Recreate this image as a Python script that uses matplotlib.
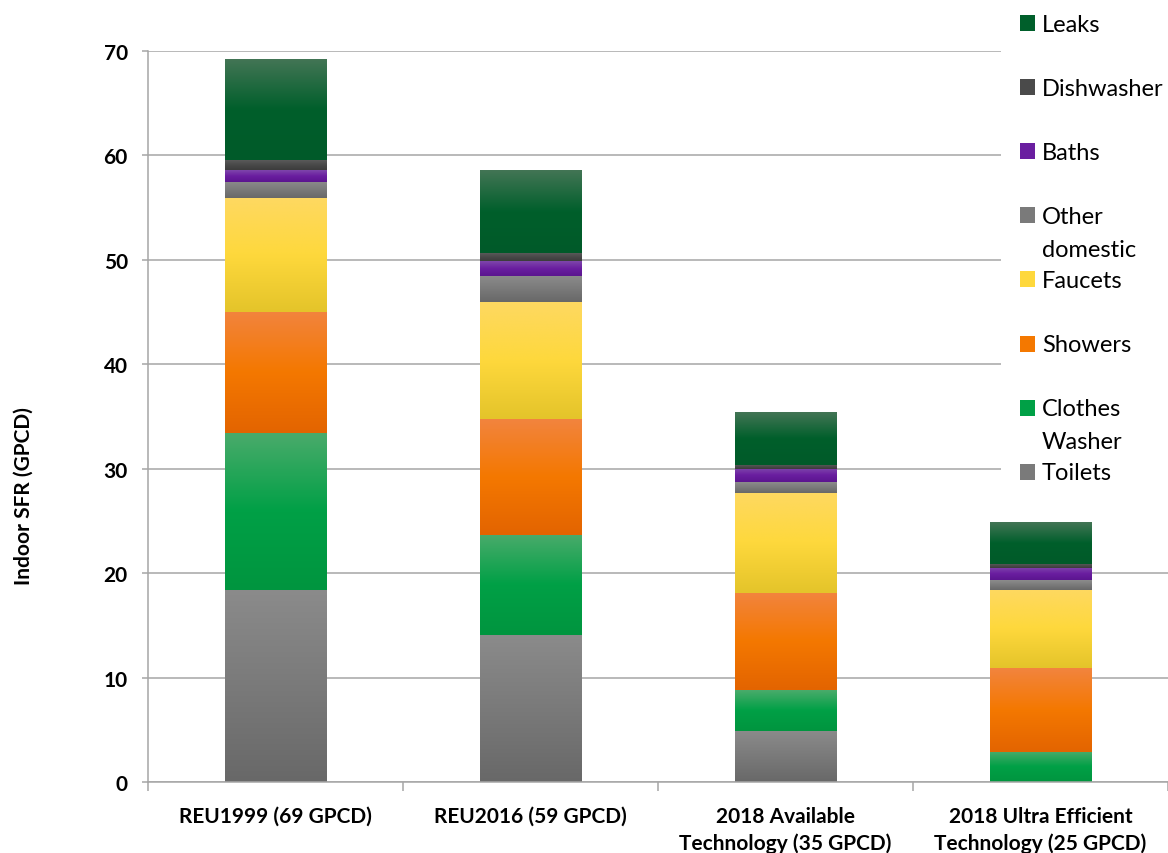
import numpy as np
import matplotlib
matplotlib.use("Agg")
import matplotlib.pyplot as plt
from matplotlib.colors import LinearSegmentedColormap
from matplotlib.patches import Rectangle

plt.rcParams['font.family'] = ['Lato', 'DejaVu Sans']

# indoor single-family residential use, gallons per capita per day
categories = ['REU1999 (69 GPCD)', 'REU2016 (59 GPCD)',
              '2018 Available\nTechnology (35 GPCD)',
              '2018 Ultra Efficient\nTechnology (25 GPCD)']
toilets = [18.4, 14.1, 4.9, 0.0]
clothes_washer = [15.0, 9.6, 3.9, 2.9]
showers = [11.6, 11.1, 9.3, 8.0]
faucets = [10.9, 11.2, 9.6, 7.5]
other_domestic = [1.6, 2.5, 1.0, 0.95]
baths = [1.1, 1.4, 1.25, 1.15]
dishwasher = [1.0, 0.8, 0.4, 0.4]
leaks = [9.6, 7.9, 5.0, 4.0]

series = [
    ('Toilets', toilets, ['#8b8b8b', '#7a7a7a', '#686868']),
    ('Clothes\nWasher', clothes_washer, ['#4aab6b', '#00a046', '#00953f']),
    ('Showers', showers, ['#f2843e', '#f47800', '#e36400']),
    ('Faucets', faucets, ['#fed961', '#fed83c', '#e4c42a']),
    ('Other\ndomestic', other_domestic, ['#8c8c8c', '#7a7a7a', '#686868']),
    ('Baths', baths, ['#7e46ab', '#6a1ea0', '#5b158f']),
    ('Dishwasher', dishwasher, ['#5e5e5e', '#4a4a4a', '#3c3c3c']),
    ('Leaks', leaks, ['#437555', '#005f2b', '#005a29']),
]

W, H = 1168, 854
fig = plt.figure(figsize=(W / 100, H / 100), dpi=100)
ax = fig.add_axes([148 / W, 1 - 783 / H, 1 - 148 / W, (783 - 52) / H])

x = np.arange(len(categories))
width = 0.40
grad = np.linspace(0, 1, 256).reshape(-1, 1)
bottom = np.zeros(len(categories))
for name, vals, cols in series:
    cmap = LinearSegmentedColormap.from_list(name, cols[::-1])
    bars = ax.bar(x, vals, width, bottom=bottom, color='none', linewidth=0, zorder=2)
    for b in bars:
        if b.get_height() <= 0:
            continue
        x0, y0 = b.get_xy()
        ax.imshow(grad, extent=[x0, x0 + b.get_width(), y0, y0 + b.get_height()],
                  origin='lower', cmap=cmap, aspect='auto', zorder=2,
                  interpolation='bilinear')
    bottom += np.array(vals)

ax.set_xlim(-0.5, 3.5)
ax.set_ylim(0, 70)
ax.set_yticks(range(0, 71, 10))
ax.set_xticks(x)
ax.set_xticklabels(categories, fontsize=15, fontweight='bold', linespacing=1.4)
ax.set_xticks(np.arange(-0.5, 3.6, 1), minor=True)
for lab in ax.get_yticklabels():
    lab.set_fontweight('bold')
    lab.set_fontsize(15)

grid_col = '#a6a6a6'
ax.grid(axis='y', color=grid_col, linewidth=1.1, zorder=0)
ax.set_axisbelow(True)
for s in ['top', 'right']:
    ax.spines[s].set_visible(False)
for s in ['left', 'bottom']:
    ax.spines[s].set_color(grid_col)
    ax.spines[s].set_linewidth(1.1)
ax.tick_params(axis='y', length=4.5, color=grid_col, width=1.1, pad=10)
ax.tick_params(axis='x', which='major', length=0, pad=17)
ax.tick_params(axis='x', which='minor', length=6.5, color=grid_col, width=1.1)

fig.text(24 / W, 1 - 496 / H, 'Indoor SFR (GPCD)', rotation=90, fontsize=15,
         fontweight='bold', ha='center', va='center')

# legend panel on the right, drawn top to bottom
fig.patches.append(Rectangle((1001 / W, 1 - 495 / H), 1 - 1001 / W, 495 / H,
                             transform=fig.transFigure, facecolor='white',
                             edgecolor='none', zorder=5))
for i, (name, vals, cols) in enumerate(series[::-1]):
    yc = 24 + i * 64.1
    fig.patches.append(Rectangle((1020 / W, 1 - (yc + 8) / H), 15 / W, 16 / H,
                                 transform=fig.transFigure, facecolor=cols[1],
                                 edgecolor='none', zorder=6))
    for j, line in enumerate(name.split('\n')):
        fig.text(1042 / W, 1 - (yc + 1 + j * 33) / H, line, fontsize=17,
                 ha='left', va='center', zorder=7)

fig.savefig('out.png', dpi=100)
